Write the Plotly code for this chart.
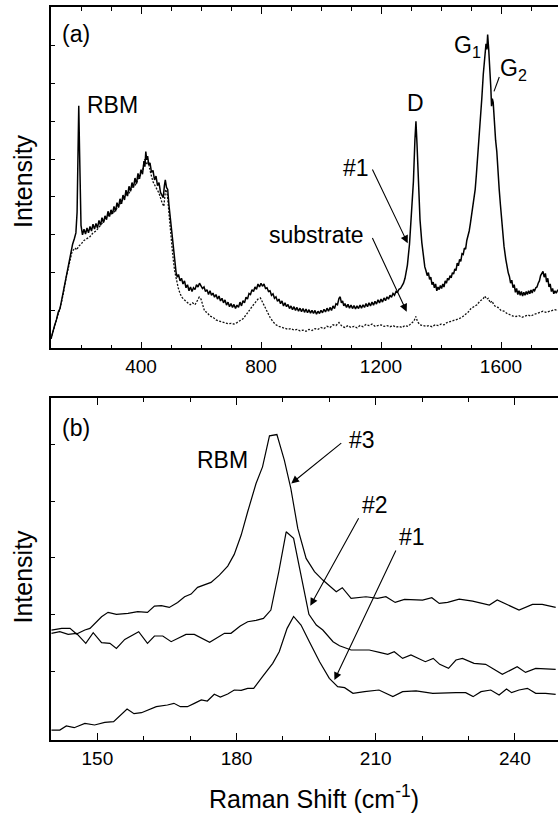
import plotly.graph_objects as go

# ---------------- Panel (a): full Raman spectra ----------------
# sample #1 (solid) : (Raman shift, intensity)
a_sample_pts = [
    (100,0.25),(106,0.45),(112,0.6),(118,0.75),(124,0.95),(130,1.05),(136,1.3),(142,1.5),(148,1.8),(154,2.05),
    (160,2.35),(166,2.5),(172,2.75),(178,2.9),(183,3.05),(187,3.6),(190,5.2),(192.5,6.41),(195,5.3),(198,4.0),
    (200,3.25),(205,3.0),(210,3.15),(215,3.02),(220,3.18),(225,3.05),(230,3.22),(235,3.1),(240,3.28),(245,3.15),
    (250,3.3),(255,3.18),(260,3.38),(265,3.25),(270,3.45),(275,3.32),(280,3.5),(285,3.4),(290,3.62),(295,3.48),
    (300,3.66),(305,3.55),(310,3.75),(315,3.62),(320,3.85),(325,3.72),(330,3.95),(335,3.82),(340,4.05),(345,3.92),
    (350,4.18),(355,4.02),(360,4.28),(365,4.15),(370,4.38),(375,4.25),(380,4.5),(385,4.35),(390,4.62),(395,4.48),
    (400,4.72),(405,4.6),(410,4.95),(413,4.8),(416,5.2),(419,4.98),(422,5.08),(426,4.85),(430,4.9),(435,4.65),
    (440,4.7),(445,4.45),(450,4.55),(455,4.3),(460,4.38),(465,4.12),(470,4.05),(474,3.98),(478,4.3),(481,4.45),
    (485,4.25),(489,4.2),(493,3.8),(497,3.5),(501,3.15),(505,2.8),(509,2.45),(513,2.2),(517,2.0),(521,1.88),
    (525,1.95),(530,1.78),(535,1.85),(540,1.7),(545,1.78),(550,1.6),(555,1.68),(560,1.52),(565,1.62),(570,1.5),
    (575,1.6),(580,1.55),(585,1.68),(590,1.62),(595,1.72),(600,1.65),(605,1.58),(610,1.62),(615,1.5),(620,1.55),
    (625,1.42),(630,1.52),(635,1.4),(640,1.46),(645,1.35),(650,1.42),(655,1.3),(660,1.38),(665,1.25),(670,1.32),
    (675,1.2),(680,1.28),(685,1.14),(690,1.22),(695,1.1),(700,1.18),(705,1.08),(710,1.16),(715,1.05),(720,1.14),
    (725,1.08),(730,1.22),(735,1.12),(740,1.26),(745,1.2),(750,1.35),(755,1.3),(760,1.45),(765,1.42),(770,1.55),
    (775,1.5),(780,1.62),(785,1.56),(790,1.7),(795,1.62),(800,1.72),(805,1.64),(810,1.7),(815,1.58),(820,1.6),
    (825,1.5),(830,1.52),(835,1.4),(840,1.44),(845,1.32),(850,1.36),(855,1.24),(860,1.3),(865,1.18),(870,1.25),
    (875,1.12),(880,1.2),(885,1.1),(890,1.16),(895,1.05),(900,1.12),(905,1.02),(910,1.1),(915,1.0),(920,1.08),
    (925,0.98),(930,1.06),(935,0.97),(940,1.05),(945,0.95),(950,1.04),(955,0.94),(960,1.02),(965,0.93),(970,1.0),
    (975,0.92),(980,1.0),(985,0.9),(990,0.98),(995,0.92),(1000,1.0),(1005,0.94),(1010,1.03),(1015,0.96),(1020,1.06),
    (1025,0.98),(1030,1.08),(1035,1.0),(1040,1.12),(1045,1.05),(1050,1.18),(1055,1.15),(1060,1.32),(1064,1.36),(1068,1.2),
    (1072,1.25),(1076,1.12),(1080,1.18),(1085,1.08),(1090,1.16),(1095,1.06),(1100,1.14),(1105,1.05),(1110,1.13),(1115,1.04),
    (1120,1.12),(1125,1.05),(1130,1.14),(1135,1.06),(1140,1.15),(1145,1.08),(1150,1.18),(1155,1.1),(1160,1.2),(1165,1.12),
    (1170,1.22),(1175,1.14),(1180,1.24),(1185,1.17),(1190,1.28),(1195,1.2),(1200,1.3),(1205,1.22),(1210,1.33),(1215,1.26),
    (1220,1.36),(1225,1.3),(1230,1.4),(1235,1.35),(1240,1.45),(1245,1.4),(1250,1.5),(1255,1.48),(1260,1.56),(1265,1.58),
    (1270,1.66),(1275,1.72),(1280,1.85),(1288,2.2),(1295,2.75),(1302,3.5),(1308,4.4),(1313,5.5),(1316.5,6.0),(1320,5.4),
    (1325,4.3),(1330,3.4),(1336,2.8),(1342,2.35),(1346,2.15),(1350,2.05),(1354,1.92),(1358,2.0),(1362,1.82),(1366,1.88),
    (1370,1.68),(1374,1.75),(1378,1.6),(1382,1.7),(1386,1.52),(1390,1.62),(1394,1.55),(1398,1.66),(1402,1.58),(1406,1.7),
    (1410,1.62),(1414,1.78),(1418,1.72),(1422,1.85),(1426,1.8),(1430,1.92),(1434,1.86),(1438,2.0),(1442,1.96),(1446,2.1),
    (1450,2.05),(1454,2.25),(1458,2.18),(1462,2.35),(1466,2.3),(1470,2.5),(1474,2.48),(1478,2.65),(1482,2.62),(1486,2.85),
    (1490,2.95),(1494,3.1),(1498,3.3),(1502,3.5),(1506,3.75),(1510,3.95),(1514,4.2),(1518,4.6),(1524,5.2),(1530,5.85),
    (1536,6.6),(1541,7.25),(1546,7.7),(1550,8.05),(1553,7.9),(1555.5,8.29),(1559,7.9),(1563,7.45),(1566,6.9),(1568.5,6.4),
    (1571,6.6),(1574,6.5),(1578,5.9),(1582,5.5),(1586,5.2),(1590,4.6),(1594,4.2),(1598,3.8),(1602,3.35),(1606,3.0),
    (1610,2.7),(1616,2.35),(1620,2.15),(1624,2.0),(1628,1.9),(1632,1.72),(1636,1.8),(1640,1.6),(1644,1.68),(1648,1.48),
    (1652,1.58),(1656,1.42),(1660,1.52),(1664,1.4),(1668,1.5),(1672,1.38),(1676,1.48),(1680,1.4),(1684,1.5),(1688,1.42),
    (1692,1.52),(1696,1.44),(1700,1.54),(1704,1.46),(1708,1.56),(1712,1.52),(1716,1.6),(1720,1.62),(1724,1.72),(1728,1.78),
    (1732,1.92),(1736,1.98),(1740,2.03),(1744,1.88),(1748,1.98),(1752,1.75),(1756,1.85),(1760,1.62),(1764,1.7),(1768,1.5),
    (1772,1.58),(1776,1.44),(1780,1.52),(1784,1.46),(1790,1.55),
]
a_sample_x = [p[0] for p in a_sample_pts]
a_sample_y = [p[1] for p in a_sample_pts]

# substrate (dotted)
a_sub_x = [100,110,120,130,140,150,160,170,180,186,192,200,210,220,230,240,250,260,270,280,
           290,300,310,320,330,340,350,360,370,380,390,400,406,412,418,424,430,440,450,460,
           470,476,482,488,494,500,506,512,518,524,530,536,542,548,556,564,572,580,588,594,
           600,606,612,620,630,640,650,660,670,680,690,700,710,720,730,740,750,760,770,780,
           790,798,806,814,822,830,840,850,860,870,880,890,900,910,920,930,940,950,960,970,
           980,990,1000,1010,1020,1030,1040,1050,1060,1070,1080,1090,1100,1110,1120,1130,1140,1150,1160,1170,
           1180,1190,1200,1210,1220,1230,1240,1250,1260,1270,1280,1290,1300,1310,1316,1322,1330,1340,1350,1360,
           1370,1380,1390,1400,1410,1420,1430,1440,1450,1460,1470,1480,1490,1500,1510,1520,1530,1540,1546,1552,
           1558,1564,1570,1576,1582,1590,1600,1610,1620,1630,1640,1650,1660,1670,1680,1690,1700,1710,1720,1730,
           1740,1750,1760,1770,1780,1790]
a_sub_y = [0.25,0.55,0.8,1.05,1.4,1.85,2.25,2.55,2.65,2.6,2.7,2.75,2.85,2.9,2.95,3.05,3.1,3.2,3.3,3.4,
           3.5,3.55,3.6,3.7,3.8,3.95,4.05,4.1,4.25,4.3,4.45,4.6,4.7,5.0,4.85,4.95,4.7,4.4,4.25,4.1,
           3.85,3.75,4.2,4.05,3.5,2.9,2.45,2.05,1.8,1.6,1.45,1.35,1.3,1.25,1.2,1.15,1.2,1.15,1.25,1.35,
           1.3,1.1,0.98,0.95,0.85,0.82,0.75,0.72,0.7,0.68,0.65,0.66,0.64,0.68,0.72,0.78,0.88,1.0,1.1,1.2,
           1.3,1.33,1.2,1.1,0.95,0.82,0.7,0.62,0.58,0.55,0.53,0.5,0.52,0.48,0.5,0.46,0.48,0.45,0.5,0.47,
           0.52,0.5,0.55,0.52,0.58,0.55,0.62,0.6,0.68,0.58,0.55,0.6,0.55,0.58,0.54,0.6,0.57,0.63,0.6,0.64,
           0.58,0.6,0.62,0.58,0.6,0.57,0.6,0.56,0.58,0.55,0.6,0.58,0.65,0.72,0.84,0.7,0.62,0.6,0.58,0.6,
           0.57,0.62,0.6,0.64,0.62,0.68,0.7,0.72,0.75,0.78,0.82,0.88,0.95,1.05,1.1,1.15,1.25,1.3,1.38,1.3,
           1.32,1.2,1.25,1.15,1.1,1.08,1.0,0.98,0.92,0.88,0.85,0.84,0.86,0.82,0.85,0.88,0.85,0.9,0.92,0.95,
           0.98,0.95,0.98,1.0,1.02,1.0]

# ---------------- Panel (b): RBM region, samples #1-#3 ----------------
b1_x = [140.1,141.9,143.3,145,147.3,149.4,151.6,153.5,156.4,157.9,159.5,162.7,165.1,166.5,167.9,169.4,170.9,172.4,173.7,175.2,
        176.5,178.1,179.5,181,182.4,183.7,185.6,187.8,189.2,190.9,192.3,193.9,195.7,197.9,200,201.8,203.3,205.1,207.6,210.7,
        213.7,215.8,218.7,222.3,227.3,229.4,231,232.7,234.8,236.6,238.2,239.3,240.9,242.7,244.5,246.6,248.8]
b1_y = [0.176,0.176,0.247,0.217,0.294,0.265,0.312,0.324,0.547,0.464,0.482,0.588,0.617,0.647,0.588,0.588,0.647,0.706,0.688,0.806,
        0.759,0.812,0.882,0.876,0.912,0.912,1.117,1.353,1.557,1.970,2.18,2.028,1.734,1.381,1.088,0.941,0.923,0.823,0.853,0.882,
        0.765,0.853,0.865,0.823,0.835,0.835,0.765,0.853,0.882,0.794,0.9,0.835,0.882,0.912,0.823,0.823,0.806]

b2_x = [140.1,141.9,143.7,145.5,147.5,149.1,150.9,152.7,154.1,155.9,158.9,160.8,162.3,164.1,165.9,169.1,170.9,174.2,177.4,178.8,
        180.8,182.4,184.2,185.8,187.4,189.1,190.7,192.3,193.6,194.7,195.6,197.2,198.6,200.8,202.2,204.7,208.6,210.8,212.6,214,
        215.8,217.6,220.7,222.4,223.8,225.7,227.3,228.7,231.2,233.7,235.5,237.3,240.5,242.3,244.5,246.6,248.8]
b2_y = [1.882,1.911,1.864,1.882,1.705,1.893,1.717,1.705,1.617,1.776,1.911,1.705,1.835,1.835,1.735,1.864,1.864,1.723,1.882,1.882,
        2.011,2.087,2.11,2.146,2.293,2.968,3.674,3.557,3.028,2.557,2.217,2.028,1.94,1.735,1.664,1.588,1.588,1.546,1.511,1.558,
        1.44,1.5,1.382,1.44,1.335,1.264,1.411,1.44,1.352,1.335,1.252,1.158,1.293,1.193,1.264,1.252,1.246]

b3_x = [140.1,142.3,144.1,145.5,147.3,148.4,150.9,152.3,154.1,156.6,158.7,160.8,162.3,163.8,165.5,167.3,168.8,170.2,171.6,174.5,
        176.3,178.1,179.5,181,182.4,184.2,185.6,187.1,188.7,190.3,191.7,193.2,195,196.8,198.6,201.5,202.8,204.7,207.9,210.4,
        212.2,214.2,216.2,220.1,222.1,223.7,225.5,228,230.9,234.5,236.2,238.4,240.9,243.8,245.9,248.8]
b3_y = [1.94,1.97,1.97,1.87,1.94,1.97,2.175,2.252,2.217,2.235,2.264,2.252,2.363,2.37,2.34,2.428,2.528,2.575,2.693,2.781,
        2.91,3.069,3.275,3.616,4.027,4.527,4.82,5.367,5.39,4.938,4.439,3.734,3.204,2.97,2.822,2.616,2.687,2.499,2.528,2.499,
        2.528,2.428,2.481,2.47,2.51,2.411,2.428,2.487,2.452,2.381,2.47,2.381,2.293,2.393,2.393,2.34]

a_xticks = [400, 800, 1200, 1600]
b_xticks = [150, 180, 210, 240]

FONT = "Liberation Sans, Arial, Helvetica, sans-serif"

fig = go.Figure()
fig.add_trace(go.Scatter(x=a_sub_x, y=a_sub_y, mode="lines", xaxis="x", yaxis="y",
                         line=dict(color="#111", width=1.3, dash="2px,1.5px")))
fig.add_trace(go.Scatter(x=a_sample_x, y=a_sample_y, mode="lines", xaxis="x", yaxis="y",
                         line=dict(color="black", width=1.5)))
for bx, by in [(b1_x, b1_y), (b2_x, b2_y), (b3_x, b3_y)]:
    fig.add_trace(go.Scatter(x=bx, y=by, mode="lines", xaxis="x2", yaxis="y2",
                             line=dict(color="black", width=1.2)))

axis_common = dict(showline=True, linecolor="black", linewidth=1.5, showgrid=False, zeroline=False,
                   ticks="inside", tickcolor="black", tickwidth=1.2)

fig.update_layout(
    width=558, height=814,
    margin=dict(l=51, r=0, t=7, b=74),
    paper_bgcolor="white", plot_bgcolor="white",
    showlegend=False,
    font=dict(family=FONT, color="black", size=19),
    xaxis=dict(axis_common, domain=[0, 1], anchor="y", range=[100, 1790],
               tickmode="array", tickvals=a_xticks, ticklen=7, mirror="ticks",
               minor=dict(dtick=100, tick0=0, ticklen=4, ticks="inside", tickcolor="black", tickwidth=1.2),
               tickfont=dict(size=19, family=FONT)),
    yaxis=dict(axis_common, domain=[0.5344, 1], anchor="x", range=[0, 9.02],
               tickmode="array", tickvals=[1, 2, 3, 4, 5, 6, 7, 8], ticklen=4, showticklabels=False),
    xaxis2=dict(axis_common, domain=[0, 1], anchor="y2", range=[140, 249.3],
                tickmode="array", tickvals=b_xticks, ticklen=7, mirror="ticks",
                minor=dict(dtick=10, tick0=0, ticklen=4, ticks="inside", tickcolor="black", tickwidth=1.2),
                tickfont=dict(size=19, family=FONT)),
    yaxis2=dict(axis_common, domain=[0, 0.4662], anchor="x2", range=[0, 6.03],
                tickmode="array", tickvals=[1.217, 2.217, 3.217, 4.217, 5.217], ticklen=4, showticklabels=False),
)

ann = []
def txt(x, y, t, xref="x", yref="y", xanchor="center", yanchor="middle", size=23, angle=0):
    ann.append(dict(x=x, y=y, xref=xref, yref=yref, text=t, showarrow=False,
                    xanchor=xanchor, yanchor=yanchor, textangle=angle,
                    font=dict(size=size, family=FONT, color="black")))
def arrow(x, y, ax, ay, xref="x", yref="y"):
    ann.append(dict(x=x, y=y, ax=ax, ay=ay, xref=xref, yref=yref, axref=xref, ayref=yref,
                    text="", showarrow=True, arrowhead=2, arrowsize=1.4, arrowwidth=1.1,
                    arrowcolor="black", standoff=0, startstandoff=0))

# panel (a)
txt(183.3, 8.315, "(a)")
txt(213.3, 6.437, "RBM", xanchor="left")
txt(1315, 6.476, "D")
txt(1436.7, 8.42, "G<sub>1</sub>", xanchor="left", yanchor="top")
txt(1590, 7.81, "G<sub>2</sub>", xanchor="left", yanchor="top")
txt(1115, 4.757, "#1")
arrow(1289, 2.778, 1169, 4.762)
txt(985, 2.997, "substrate")
arrow(1285.7, 0.968, 1169, 2.952)

# panel (b)
txt(145.4, 5.503, "(b)", xref="x2", yref="y2")
txt(177.03, 4.938, "RBM", xref="x2", yref="y2")
txt(207.03, 5.291, "#3", xref="x2", yref="y2")
arrow(191.8, 4.527, 202.9, 5.261, xref="x2", yref="y2")
txt(209.9, 4.145, "#2", xref="x2", yref="y2")
arrow(195.9, 2.369, 206.5, 3.938, xref="x2", yref="y2")
txt(217.8, 3.589, "#1", xref="x2", yref="y2")
arrow(201.1, 1.058, 214.5, 3.369, xref="x2", yref="y2")

# axis titles
txt(-0.0552, 0.7626, "Intensity", xref="paper", yref="paper", size=25, angle=-90)
txt(-0.0552, 0.2231, "Intensity", xref="paper", yref="paper", size=25, angle=-90)
txt(0.5187, -0.0778, "Raman Shift (cm<sup>-1</sup>)", xref="paper", yref="paper", size=25)

fig.update_layout(annotations=ann,
                  shapes=[dict(type="line", xref="x", yref="y", x0=1594.3, y0=7.17, x1=1576.7, y1=6.79,
                               line=dict(color="black", width=1.1))])

fig.write_html("out.html", config={"displayModeBar": False},
               post_script="document.body.style.margin='0';document.body.style.padding='0';document.body.style.overflow='hidden';")
